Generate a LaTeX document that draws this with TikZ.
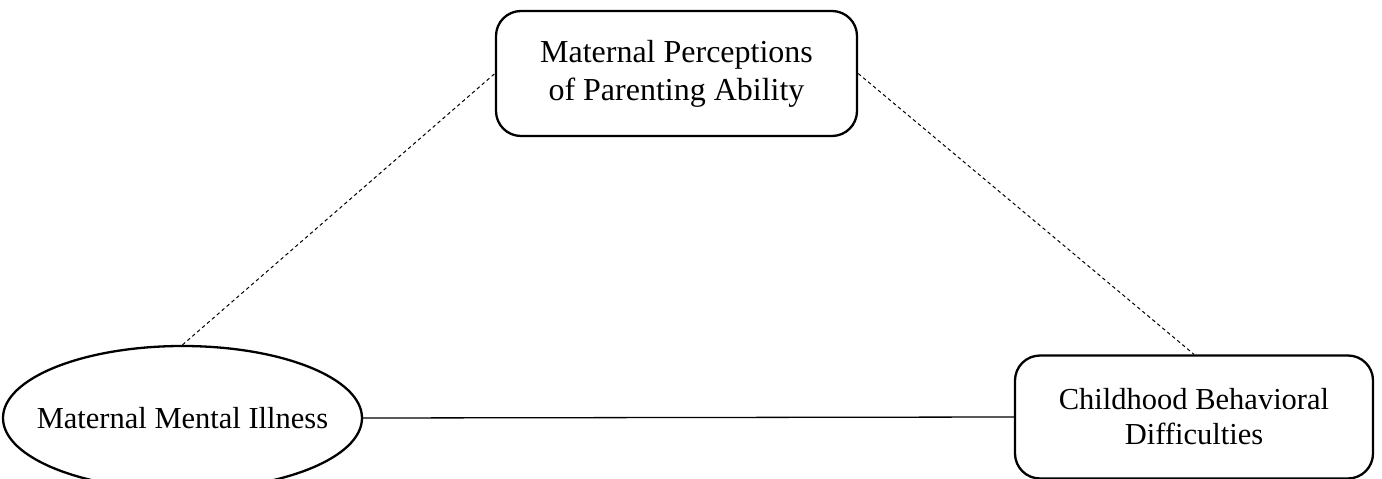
\documentclass[tikz,border=0pt]{standalone}
\usepackage{fontspec}
\setmainfont{Liberation Serif}
\usetikzlibrary{shapes.geometric}
\begin{document}
\begin{tikzpicture}[x=1pt,y=-1pt,
  box/.style={draw, line width=2.3pt, rounded corners=25pt, align=center, inner sep=0pt},
  oval/.style={draw, ellipse, line width=2.3pt, inner sep=0pt},
  link/.style={line width=1pt, dash pattern=on 3.5pt off 3pt},
  path/.style={line width=1.3pt}]
\useasboundingbox (0,0) rectangle (1382,479);
\node[box, minimum width=361pt, minimum height=125pt, font=\fontsize{32}{38}\selectfont] (percep) at (676.5,73.5) {Maternal Perceptions\\of Parenting Ability};
\node[oval, minimum width=359pt, minimum height=144pt,
  label={[font=\fontsize{30.5}{36}\selectfont]center:Maternal Mental Illness}] (mental) at (182.5,418) {};
\node[box, minimum width=358pt, minimum height=123pt, font=\fontsize{30.5}{35}\selectfont] (child) at (1194,417) {Childhood Behavioral\\Difficulties};
\draw[link] (mental.north) -- (percep.west);
\draw[link] (percep.east) -- (child.north);
\draw[path] (mental.east) -- (child.west);
\end{tikzpicture}
\end{document}
